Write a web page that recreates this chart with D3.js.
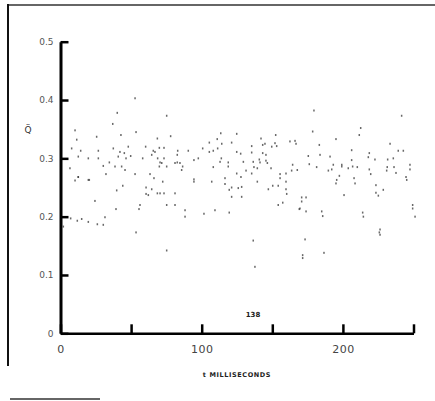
<!DOCTYPE html>
<html>
<head>
<meta charset="utf-8">
<script src="https://cdn.jsdelivr.net/npm/d3@7"></script>
<style>
  body { margin: 0; background: #fff; }
  svg { display: block; }
</style>
</head>
<body>
<div id="chart"></div>
<script>
// time in milliseconds
const tMs = [
  52.8, 40.2, 75.2, 37.0, 10.3, 53.5, 25.6, 42.8, 78.0, 11.5, 68.6, 37.4, 48.0, 60.3, 70.0, 73.3,
  7.9, 14.3, 26.8, 42.1, 45.2, 65.7, 66.9, 83.0, 82.7, 12.6, 19.7, 26.8, 40.9, 46.4, 49.7, 58.2,
  64.6, 68.8, 73.3, 70.5, 71.7, 81.1, 82.7, 34.6, 30.3, 38.6, 43.3, 45.7, 70.0, 75.2, 32.2, 52.8,
  63.4, 12.6, 10.3, 20.4, 66.2, 72.4, 44.1, 60.6, 64.6, 39.8, 60.6, 62.2, 68.6, 70.5, 73.3, 81.1,
  113.5, 124.8, 152.4, 105.4, 111.0, 114.2, 121.2, 142.0, 143.2, 144.8, 151.9, 153.1, 149.6, 135.4,
  162.5, 166.1, 166.8, 90.5, 100.7, 105.4, 108.2, 111.3, 124.8, 127.6, 135.4, 143.2, 145.5, 94.5,
  97.6, 113.9, 113.0, 118.8, 129.5, 136.5, 140.8, 141.3, 145.5, 146.5, 164.4, 84.6, 86.5, 85.8,
  108.2, 118.8, 137.0, 139.4, 149.1, 131.4, 135.4, 163.7, 167.7, 124.8, 127.8, 116.5, 94.5, 94.5,
  107.1, 139.4, 155.5, 159.7, 155.5, 159.7, 116.5, 121.2, 125.9, 128.3, 147.2, 150.3, 154.2, 159.7,
  119.5, 160.2, 121.2, 128.3,
  179.5, 241.6, 178.6, 212.6, 211.6, 195.1, 183.3, 233.4, 206.2, 239.2, 242.8, 218.7, 175.5, 183.8,
  190.9, 176.2, 193.2, 199.2, 206.2, 222.7, 218.0, 231.7, 235.7, 247.5, 181.4, 192.1, 199.2, 203.8,
  206.9, 210.2, 218.7, 231.4, 236.2, 247.5, 189.7, 197.5, 219.7, 231.0, 237.6, 244.7, 195.6, 207.9,
  208.6, 195.1, 245.2, 223.4, 228.6, 223.4, 225.1, 200.8, 173.9, 170.8,
  24.4, 39.3, 56.3, 55.6, 75.2, 81.1, 7.2, 11.9, 15.0, 19.7, 26.1, 30.3, 31.5, 2.0, 53.5, 75.2,
  88.2, 88.2, 101.6, 109.4, 119.5, 154.2, 157.4, 169.1, 136.5, 137.7,
  170.8, 169.6, 173.9, 185.0, 185.7, 173.2, 171.5, 171.5, 186.6, 214.0, 214.5, 226.3, 225.8, 226.3,
  249.4, 249.4, 251.1, 6.7, 12.6, 19.7
];

// Q double-dot values for the same points
const qVals = [
  0.403, 0.378, 0.373, 0.359, 0.348, 0.345, 0.337, 0.340, 0.338, 0.332, 0.334, 0.317, 0.320, 0.320, 0.318, 0.318,
  0.317, 0.313, 0.313, 0.311, 0.309, 0.313, 0.311, 0.313, 0.306, 0.303, 0.300, 0.300, 0.303, 0.300, 0.304, 0.300,
  0.306, 0.300, 0.300, 0.293, 0.292, 0.292, 0.293, 0.293, 0.287, 0.286, 0.286, 0.280, 0.286, 0.286, 0.273, 0.273,
  0.273, 0.268, 0.262, 0.263, 0.266, 0.260, 0.253, 0.250, 0.247, 0.245, 0.239, 0.237, 0.240, 0.240, 0.240, 0.240,
  0.343, 0.342, 0.340, 0.327, 0.333, 0.325, 0.327, 0.334, 0.323, 0.325, 0.326, 0.321, 0.320, 0.321,
  0.329, 0.330, 0.325, 0.313, 0.317, 0.311, 0.313, 0.317, 0.311, 0.308, 0.310, 0.309, 0.306, 0.297,
  0.300, 0.300, 0.294, 0.293, 0.294, 0.294, 0.298, 0.293, 0.296, 0.292, 0.289, 0.292, 0.286, 0.280,
  0.285, 0.286, 0.285, 0.283, 0.283, 0.279, 0.274, 0.279, 0.280, 0.274, 0.268, 0.266, 0.264, 0.260,
  0.260, 0.260, 0.273, 0.274, 0.266, 0.260, 0.256, 0.250, 0.249, 0.251, 0.247, 0.253, 0.253, 0.247,
  0.246, 0.239, 0.234, 0.234,
  0.382, 0.373, 0.346, 0.352, 0.340, 0.333, 0.323, 0.325, 0.314, 0.313, 0.313, 0.309, 0.304, 0.306,
  0.303, 0.290, 0.289, 0.289, 0.297, 0.298, 0.302, 0.298, 0.300, 0.289, 0.285, 0.281, 0.286, 0.283,
  0.286, 0.285, 0.281, 0.285, 0.285, 0.281, 0.279, 0.270, 0.273, 0.279, 0.275, 0.268, 0.263, 0.266,
  0.257, 0.257, 0.263, 0.254, 0.246, 0.241, 0.236, 0.237, 0.233, 0.233,
  0.227, 0.213, 0.220, 0.213, 0.220, 0.220, 0.197, 0.193, 0.196, 0.191, 0.187, 0.186, 0.199, 0.183, 0.173, 0.142,
  0.211, 0.200, 0.205, 0.211, 0.207, 0.220, 0.224, 0.213, 0.159, 0.114,
  0.226, 0.214, 0.209, 0.209, 0.201, 0.161, 0.134, 0.129, 0.138, 0.207, 0.200, 0.178, 0.173, 0.169,
  0.220, 0.214, 0.200, 0.283, 0.268, 0.263
];

const yTicks = [0, 0.1, 0.2, 0.3, 0.4, 0.5];
const xTicks = [0, 50, 100, 150, 200, 250];
const xTickLabels = {0: "0", 100: "100", 200: "200"};
const runLabel = "138";

const width = 435, height = 401;

const svg = d3.select("#chart").append("svg")
    .attr("width", width)
    .attr("height", height);

const x = d3.scaleLinear().domain([0, 250]).range([60.5, 413.5]);
const y = d3.scaleLinear().domain([0, 0.5]).range([333.3, 41.7]);

// scan frame edges
svg.append("line").attr("x1", 8).attr("x2", 435).attr("y1", 5).attr("y2", 5)
    .attr("stroke", "#333").attr("stroke-width", 1.5);
svg.append("line").attr("x1", 8).attr("x2", 8).attr("y1", 4).attr("y2", 366)
    .attr("stroke", "#111").attr("stroke-width", 2);
svg.append("line").attr("x1", 10).attr("x2", 100).attr("y1", 399).attr("y2", 399)
    .attr("stroke", "#333").attr("stroke-width", 1.5);

// y axis
const yAxisG = svg.append("g")
    .attr("transform", `translate(${x(0)},0)`)
    .call(d3.axisLeft(y).tickValues(yTicks).tickSize(-8).tickSizeOuter(0).tickPadding(7)
        .tickFormat(d => d === 0 ? "0" : d.toFixed(1)));
yAxisG.select(".domain").attr("stroke", "#000").attr("stroke-width", 3);
yAxisG.selectAll(".tick line").attr("stroke", "#000").attr("stroke-width", 2.5);
yAxisG.selectAll(".tick text")
    .attr("font-family", "DejaVu Sans, sans-serif")
    .attr("font-size", "9px")
    .attr("fill", "#555");

// x axis
const xAxisG = svg.append("g")
    .attr("transform", `translate(0,${y(0)})`)
    .call(d3.axisBottom(x).tickValues(xTicks).tickSize(-9).tickSizeOuter(0).tickPadding(12)
        .tickFormat(d => xTickLabels[d] || ""));
xAxisG.select(".domain").attr("stroke", "#000").attr("stroke-width", 2.5);
xAxisG.selectAll(".tick line").attr("stroke", "#000").attr("stroke-width", 2.5);
xAxisG.selectAll(".tick text")
    .attr("font-family", "DejaVu Sans, sans-serif")
    .attr("font-size", "11px")
    .attr("letter-spacing", "0.5px")
    .attr("fill", "#444");

// axis titles
svg.append("text")
    .attr("x", 28).attr("y", 133)
    .attr("text-anchor", "middle")
    .attr("font-family", "DejaVu Sans, sans-serif")
    .attr("font-size", "9px")
    .attr("fill", "#333")
    .text("Q\u0308");

svg.append("text")
    .attr("x", 237).attr("y", 377)
    .attr("text-anchor", "middle")
    .attr("font-family", "DejaVu Sans, sans-serif")
    .attr("font-size", "6.5px")
    .attr("font-weight", "bold")
    .attr("letter-spacing", "0.6px")
    .attr("fill", "#222")
    .text("t MILLISECONDS");

svg.append("text")
    .attr("x", 253).attr("y", 317)
    .attr("text-anchor", "middle")
    .attr("font-family", "DejaVu Sans, sans-serif")
    .attr("font-size", "7px")
    .attr("font-weight", "bold")
    .attr("fill", "#222")
    .text(runLabel);

// points: small specks like the scan
const points = tMs.map((t, i) => ({t: t, q: qVals[i]}));

svg.append("g")
    .selectAll("rect")
    .data(points)
    .join("rect")
    .attr("x", d => x(d.t) - 0.75)
    .attr("y", d => y(d.q) - 1)
    .attr("width", 1.5)
    .attr("height", 2)
    .attr("fill", "#444")
    .attr("opacity", 0.8);
</script>
</body>
</html>
